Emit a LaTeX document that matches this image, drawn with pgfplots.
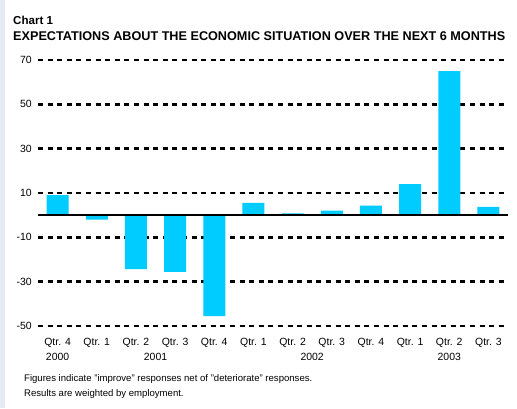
\documentclass[border=0pt]{standalone}
\usepackage{pgfplots}
\pgfplotsset{compat=1.18}
\usepackage{fontspec}
\setmainfont{Liberation Sans}
\definecolor{barcyan}{HTML}{00CCFF}
\definecolor{strip}{HTML}{E6EAF3}
\tikzset{gridl/.style={black, line width=2.6bp, dash pattern=on 4.9bp off 4.7bp}}
\begin{document}
\begin{tikzpicture}[x=1bp,y=1bp]
\useasboundingbox (0,0) rectangle (517,408);
\fill[white] (0,0) rectangle (517,408);
\fill[strip] (0,0) rectangle (5,408);
\node[anchor=base west,font=\bfseries\fontsize{11.6}{13}\selectfont,inner sep=0] at (13,384) {Chart 1};
\node[anchor=base west,font=\bfseries\fontsize{12.7}{14}\selectfont,inner sep=0] at (13,368) {EXPECTATIONS ABOUT THE ECONOMIC SITUATION OVER THE NEXT 6 MONTHS};
\begin{axis}[
  at={(38bp,82bp)}, anchor=south west, scale only axis,
  width=470bp, height=266bp,
  xmin=-0.5, xmax=11.5, ymin=-50, ymax=70,
  axis line style={draw=none}, tick style={draw=none},
  ytick={-50,-30,-10,10,30,50,70},
  xtick={0,...,11},
  xticklabels={Qtr. 4,Qtr. 1,Qtr. 2,Qtr. 3,Qtr. 4,Qtr. 1,Qtr. 2,Qtr. 3,Qtr. 4,Qtr. 1,Qtr. 2,Qtr. 3},
  xticklabel style={font=\fontsize{10.5}{12}\selectfont, anchor=north, inner sep=0pt, yshift=-12bp},
  yticklabel style={font=\fontsize{10.5}{12}\selectfont, anchor=east, inner sep=0pt, xshift=-6bp},
  /pgf/number format/assume math mode=true,
  clip=false,
]
\draw[gridl] (axis cs:-0.5,70) -- (axis cs:11.5,70);
\draw[gridl] (axis cs:-0.5,50) -- (axis cs:11.5,50);
\draw[gridl] (axis cs:-0.5,30) -- (axis cs:11.5,30);
\draw[gridl] (axis cs:-0.5,10) -- (axis cs:11.5,10);
\draw[gridl] (axis cs:-0.5,-10) -- (axis cs:11.5,-10);
\draw[gridl] (axis cs:-0.5,-30) -- (axis cs:11.5,-30);
\draw[gridl] (axis cs:-0.5,-50) -- (axis cs:11.5,-50);
\addplot[ybar, bar width=22bp, fill=barcyan, draw=none] coordinates {
  (0,9) (1,-2) (2,-24.3) (3,-25.6) (4,-45.5) (5,5.5) (6,0.8) (7,2) (8,4.3) (9,14) (10,65) (11,3.7)
};
\draw[black, line width=1.5bp] (axis cs:-0.5,0) -- (axis cs:11.5,0);
\node[anchor=north, inner sep=0pt, font=\fontsize{10.5}{12}\selectfont, yshift=-27bp] at (axis cs:0,-50) {2000};
\node[anchor=north, inner sep=0pt, font=\fontsize{10.5}{12}\selectfont, yshift=-27bp] at (axis cs:2.5,-50) {2001};
\node[anchor=north, inner sep=0pt, font=\fontsize{10.5}{12}\selectfont, yshift=-27bp] at (axis cs:6.5,-50) {2002};
\node[anchor=north, inner sep=0pt, font=\fontsize{10.5}{12}\selectfont, yshift=-27bp] at (axis cs:10,-50) {2003};
\end{axis}
\node[anchor=base west,font=\fontsize{9.6}{11}\selectfont,inner sep=0] at (24,27) {Figures indicate "improve" responses net of "deteriorate" responses.};
\node[anchor=base west,font=\fontsize{9.6}{11}\selectfont,inner sep=0] at (24,12) {Results are weighted by employment.};
\end{tikzpicture}
\end{document}
